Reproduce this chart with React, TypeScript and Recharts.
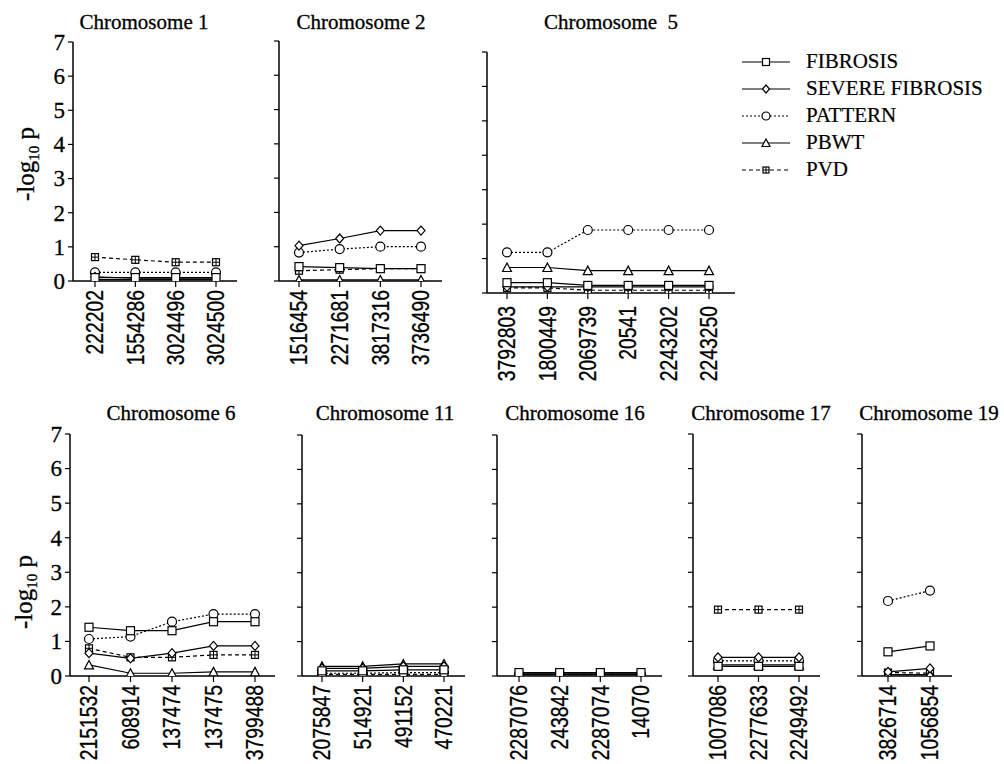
import React from "react";
import { LineChart, Line, XAxis, YAxis } from "recharts";

// ── Data ─────────────────────────────────────────────────────────────────────

const chr1Snps = ["222202", "1554286", "3024496", "3024500"];
const chr1 = {
  fibrosis: [0.1, 0.1, 0.1, 0.1],
  severe: [0.12, 0.08, 0.08, 0.08],
  pattern: [0.25, 0.25, 0.25, 0.25],
  pbwt: [0.04, 0.04, 0.04, 0.04],
  pvd: [0.7, 0.62, 0.55, 0.55],
};

const chr2Snps = ["1516454", "2271681", "3817316", "3736490"];
const chr2 = {
  fibrosis: [0.42, 0.39, 0.36, 0.36],
  severe: [1.03, 1.24, 1.47, 1.47],
  pattern: [0.83, 0.93, 1.0, 1.0],
  pbwt: [0.03, 0.03, 0.03, 0.03],
  pvd: [0.3, 0.33, 0.36, 0.36],
};

const chr5Snps = ["3792803", "1800449", "2069739", "20541", "2243202", "2243250"];
const chr5 = {
  fibrosis: [0.3, 0.3, 0.22, 0.22, 0.22, 0.22],
  severe: [0.18, 0.18, 0.18, 0.18, 0.18, 0.18],
  pattern: [1.18, 1.18, 1.83, 1.83, 1.83, 1.83],
  pbwt: [0.74, 0.74, 0.65, 0.65, 0.65, 0.65],
  pvd: [0.15, 0.15, 0.08, 0.08, 0.08, 0.08],
};

const chr6Snps = ["2151532", "608914", "137474", "137475", "3799488"];
const chr6 = {
  fibrosis: [1.41, 1.31, 1.31, 1.57, 1.57],
  severe: [0.66, 0.51, 0.66, 0.87, 0.87],
  pattern: [1.07, 1.14, 1.57, 1.79, 1.79],
  pbwt: [0.32, 0.08, 0.08, 0.12, 0.12],
  pvd: [0.8, 0.54, 0.54, 0.61, 0.61],
};

const chr11Snps = ["2075847", "514921", "491152", "470221"];
const chr11 = {
  fibrosis: [0.15, 0.15, 0.18, 0.18],
  severe: [0.22, 0.22, 0.28, 0.28],
  pattern: [0.08, 0.08, 0.1, 0.1],
  pbwt: [0.28, 0.28, 0.35, 0.35],
  pvd: [0.05, 0.05, 0.05, 0.05],
};

const chr16Snps = ["2287076", "243842", "2287074", "14070"];
const chr16 = {
  fibrosis: [0.1, 0.1, 0.1, 0.1],
  severe: [0.06, 0.06, 0.06, 0.06],
  pattern: [0.05, 0.05, 0.05, 0.05],
  pbwt: [0.04, 0.04, 0.04, 0.04],
  pvd: [0.05, 0.05, 0.05, 0.05],
};

const chr17Snps = ["1007086", "2277633", "2249492"];
const chr17 = {
  fibrosis: [0.28, 0.28, 0.28],
  severe: [0.54, 0.54, 0.54],
  pattern: [0.44, 0.44, 0.44],
  pbwt: [0.32, 0.32, 0.32],
  pvd: [1.92, 1.92, 1.92],
};

const chr19Snps = ["3826714", "1056854"];
const chr19 = {
  fibrosis: [0.7, 0.87],
  severe: [0.12, 0.22],
  pattern: [2.17, 2.47],
  pbwt: [0.04, 0.04],
  pvd: [0.1, 0.08],
};

const yTicks = [0, 1, 2, 3, 4, 5, 6, 7];

// ── Series styles ────────────────────────────────────────────────────────────

type Shape = "square" | "diamond" | "circle" | "triangle" | "boxplus";

const SERIES: { key: string; field: string; shape: Shape; dash?: string }[] = [
  { key: "FIBROSIS", field: "fibrosis", shape: "square" },
  { key: "SEVERE FIBROSIS", field: "severe", shape: "diamond" },
  { key: "PATTERN", field: "pattern", shape: "circle", dash: "2 2" },
  { key: "PBWT", field: "pbwt", shape: "triangle" },
  { key: "PVD", field: "pvd", shape: "boxplus", dash: "4 3" },
];

const SERIF = "'Liberation Serif', 'Times New Roman', serif";
const SANS = "'Liberation Sans', Arial, sans-serif";

function Marker({ shape, cx, cy, s = 4 }: { shape: Shape; cx: number; cy: number; s?: number }) {
  const common = { fill: "#fff", stroke: "#000", strokeWidth: 1.2 };
  if (cx == null || cy == null) return null;
  switch (shape) {
    case "square":
      return <rect x={cx - s} y={cy - s} width={2 * s} height={2 * s} {...common} />;
    case "diamond":
      return (
        <polygon
          points={`${cx},${cy - s - 0.5} ${cx + s},${cy} ${cx},${cy + s + 0.5} ${cx - s},${cy}`}
          {...common}
        />
      );
    case "circle":
      return <circle cx={cx} cy={cy} r={s + 0.5} {...common} />;
    case "triangle":
      return (
        <polygon
          points={`${cx},${cy - s - 0.5} ${cx + s + 0.5},${cy + s} ${cx - s - 0.5},${cy + s}`}
          {...common}
        />
      );
    case "boxplus":
      return (
        <g>
          <rect x={cx - s + 0.5} y={cy - s + 0.5} width={2 * s - 1} height={2 * s - 1} {...common} />
          <line x1={cx} y1={cy - s + 0.5} x2={cx} y2={cy + s - 0.5} stroke="#000" strokeWidth={1} />
          <line x1={cx - s + 0.5} y1={cy} x2={cx + s - 0.5} y2={cy} stroke="#000" strokeWidth={1} />
        </g>
      );
  }
  return null;
}

// ── Ticks ────────────────────────────────────────────────────────────────────

function SnpTick({ x, y, payload, gap = 1 }: any) {
  // narrow look: Liberation Sans compressed along the text direction
  return (
    <g transform={`translate(${x},${y + gap}) rotate(-90) scale(0.84 1)`}>
      <text
        x={0}
        y={0}
        dy="0.36em"
        textAnchor="end"
        fontFamily={SANS}
        fontSize={23}
        fill="#000"
        stroke="#000"
        strokeWidth={0.3}
      >
        {payload.value}
      </text>
    </g>
  );
}

function YTickLabel({ x, y, payload }: any) {
  return (
    <text x={x} y={y} dy="0.34em" textAnchor="end" fontFamily={SERIF} fontSize={23} fill="#000" stroke="#000" strokeWidth={0.3}>
      {payload.value}
    </text>
  );
}

const NoTick = () => <g />;

// ── Panel ────────────────────────────────────────────────────────────────────

interface PanelProps {
  title: string;
  snps: string[];
  vals: Record<string, number[]>;
  axisX: number;
  yTop: number;
  y0: number;
  xEnd: number;
  padL: number;
  padR: number;
  titleX: number;
  titleY: number;
  gap?: number;
  showY?: boolean;
}

function Panel({ title, snps, vals, axisX, yTop, y0, xEnd, padL, padR, titleX, titleY, gap = 1, showY }: PanelProps) {
  const YW = 60;
  const MT = 15;
  const XH = 110;
  const plotW = xEnd - axisX;
  const plotH = y0 - yTop;
  const data = snps.map((snp, i) => {
    const row: Record<string, any> = { snp };
    SERIES.forEach((s) => (row[s.key] = vals[s.field][i]));
    return row;
  });
  return (
    <>
      <div
        style={{
          position: "absolute",
          left: titleX,
          top: titleY,
          transform: "translateX(-50%)",
          whiteSpace: "pre",
          fontFamily: SERIF,
          fontSize: 21,
          lineHeight: 1,
          WebkitTextStroke: "0.3px #000",
        }}
      >
        {title}
      </div>
      <div style={{ position: "absolute", left: axisX - YW, top: yTop - MT }}>
        <LineChart
          width={YW + plotW + 4}
          height={MT + plotH + XH}
          data={data}
          margin={{ top: MT, right: 4, bottom: 0, left: 0 }}
        >
          <XAxis
            dataKey="snp"
            height={XH}
            interval={0}
            padding={{ left: padL, right: padR }}
            tick={<SnpTick gap={gap} />}
            tickSize={6}
            axisLine={{ stroke: "#000", strokeWidth: 1.5 }}
            tickLine={{ stroke: "#000", strokeWidth: 1.2 }}
          />
          <YAxis
            width={YW}
            domain={[0, 7]}
            ticks={yTicks}
            allowDataOverflow
            tick={showY ? <YTickLabel /> : <NoTick />}
            tickSize={5}
            tickMargin={3}
            axisLine={{ stroke: "#000", strokeWidth: 1.5 }}
            tickLine={{ stroke: "#000", strokeWidth: 1.2 }}
          />
          {[...SERIES].reverse().map((s) => (
            <Line
              key={s.key}
              type="linear"
              dataKey={s.key}
              stroke="#000"
              strokeWidth={1.2}
              strokeDasharray={s.dash}
              isAnimationActive={false}
              dot={(p: any) => <Marker key={`${s.key}-${p.index}`} shape={s.shape} cx={p.cx} cy={p.cy} />}
              activeDot={false}
            />
          ))}
        </LineChart>
      </div>
    </>
  );
}

// ── Y label & legend ─────────────────────────────────────────────────────────

function YLabel({ cx, cy }: { cx: number; cy: number }) {
  return (
    <div
      style={{
        position: "absolute",
        left: cx,
        top: cy,
        transform: "translate(-50%, -50%) rotate(-90deg)",
        whiteSpace: "nowrap",
        fontFamily: SERIF,
        fontSize: 25,
        lineHeight: 1,
        WebkitTextStroke: "0.3px #000",
      }}
    >
      -log<span style={{ fontSize: 15, position: "relative", top: 5 }}>10</span> p
    </div>
  );
}

function LegendBox() {
  return (
    <div style={{ position: "absolute", left: 742, top: 48 }}>
      {SERIES.map((s) => (
        <div key={s.key} style={{ display: "flex", alignItems: "center", height: 27 }}>
          <svg width={48} height={14} style={{ display: "block" }}>
            <line x1={0} y1={7} x2={48} y2={7} stroke="#000" strokeWidth={1.2} strokeDasharray={s.dash} />
            <Marker shape={s.shape} cx={24} cy={7} s={3.5} />
          </svg>
          <span style={{ marginLeft: 16, fontFamily: SERIF, fontSize: 21, lineHeight: 1, WebkitTextStroke: "0.2px #000" }}>
            {s.key}
          </span>
        </div>
      ))}
    </div>
  );
}

export default function App() {
  return (
    <div style={{ position: "absolute", left: 0, top: 0, width: 1004, height: 764, background: "#fff" }}>
      <Panel title="Chromosome 1" snps={chr1Snps} vals={chr1} axisX={73} yTop={42} y0={281} xEnd={237} padL={22} padR={21} titleX={144} titleY={12} showY />
      <Panel title="Chromosome 2" snps={chr2Snps} vals={chr2} axisX={279} yTop={41} y0={281} xEnd={442} padL={20} padR={21} titleX={361} titleY={12} />
      <Panel title="Chromosome  5" snps={chr5Snps} vals={chr5} axisX={487} yTop={52} y0={293} xEnd={735} padL={20} padR={26} titleX={611} titleY={12} gap={5} />
      <Panel title="Chromosome 6" snps={chr6Snps} vals={chr6} axisX={70} yTop={434} y0={676} xEnd={275} padL={19} padR={20} titleX={171} titleY={403} showY />
      <Panel title="Chromosome 11" snps={chr11Snps} vals={chr11} axisX={302} yTop={435} y0={676} xEnd={465} padL={20} padR={21} titleX={385} titleY={403} />
      <Panel title="Chromosome 16" snps={chr16Snps} vals={chr16} axisX={497} yTop={435} y0={676} xEnd={662} padL={22} padR={21} titleX={575} titleY={403} />
      <Panel title="Chromosome 17" snps={chr17Snps} vals={chr17} axisX={693} yTop={434} y0={676} xEnd={820} padL={25} padR={21} titleX={761} titleY={403} />
      <Panel title="Chromosome 19" snps={chr19Snps} vals={chr19} axisX={862} yTop={434} y0={676} xEnd={952} padL={26} padR={22} titleX={929} titleY={403} />
      <YLabel cx={25} cy={164} />
      <YLabel cx={23} cy={592} />
      <LegendBox />
    </div>
  );
}
